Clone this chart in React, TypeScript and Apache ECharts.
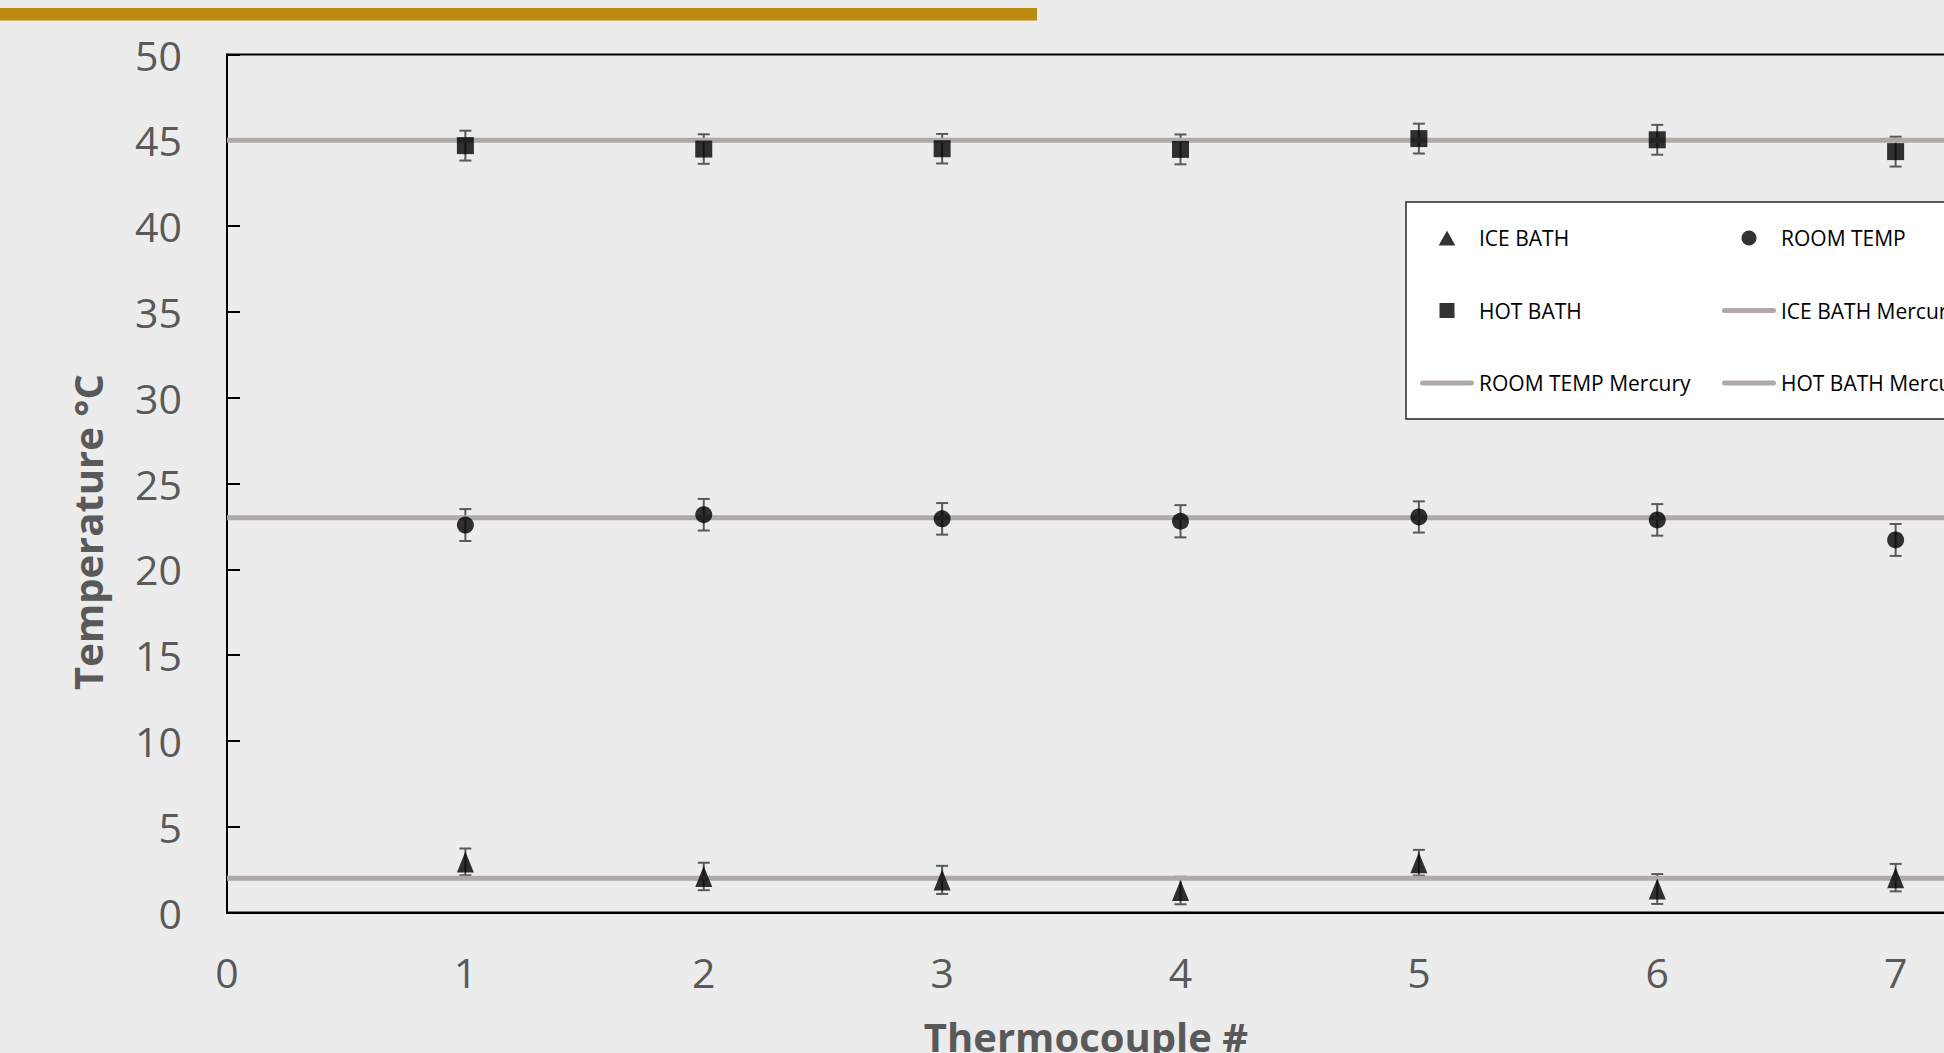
import React, { useEffect, useRef } from "react";
import * as echarts from "echarts";

const thermocouples = [1, 2, 3, 4, 5, 6, 7];
const iceBath = [2.95, 2.1, 1.9, 1.28, 2.9, 1.37, 2.03];
const iceErr = [0.78, 0.8, 0.82, 0.8, 0.75, 0.87, 0.8];
const roomTemp = [22.58, 23.18, 22.94, 22.8, 23.05, 22.88, 21.71];
const roomErr = [0.93, 0.92, 0.92, 0.94, 0.91, 0.92, 0.93];
const hotBath = [44.69, 44.49, 44.51, 44.47, 45.1, 45.03, 44.34];
const hotErr = [0.87, 0.86, 0.86, 0.87, 0.87, 0.87, 0.87];
const mercuryNames = ["ICE BATH Mercury", "ROOM TEMP Mercury", "HOT BATH Mercury"];
const mercuryValues = [2, 23, 45];
const xRange = [0, 8];
const yRange = [0, 50];

const FONT = "'Open Sans', 'Noto Sans', sans-serif";
const GRAY_TEXT = "#595959";
const LINE_GRAY = "#AFAAA7";
const ERR_COLOR = "#595959";

const ICON_TRIANGLE = "path://M5,0 L10,9 L0,9 Z";
const ICON_SQUARE = "path://M0,0 L10,0 L10,10 L0,10 Z";
const ICON_LINE = "path://M2.5,0 L51.5,0 A2.5,2.5 0 0 1 51.5,5 L2.5,5 A2.5,2.5 0 0 1 2.5,0 Z";

function errSeries(name: string, vals: number[], errs: number[]) {
  return {
    name,
    type: "custom",
    z: 1,
    silent: true,
    data: thermocouples.map((x, i) => [x, vals[i], errs[i]]),
    renderItem: (params: any, api: any) => {
      const x = api.value(0);
      const y = api.value(1);
      const e = api.value(2);
      const top = api.coord([x, y + e]);
      const bot = api.coord([x, y - e]);
      const w = 6;
      const style = { stroke: ERR_COLOR, lineWidth: 2 };
      return {
        type: "group",
        children: [
          { type: "line", shape: { x1: top[0], y1: top[1], x2: bot[0], y2: bot[1] }, style },
          { type: "line", shape: { x1: top[0] - w, y1: top[1], x2: top[0] + w, y2: top[1] }, style },
          { type: "line", shape: { x1: bot[0] - w, y1: bot[1], x2: bot[0] + w, y2: bot[1] }, style },
        ],
      };
    },
  };
}

export default function App() {
  const ref = useRef<HTMLDivElement>(null);
  useEffect(() => {
    if (!ref.current) return;
    const chart = echarts.init(ref.current, null, { renderer: "svg" });
    const scatter = (name: string, vals: number[], symbol: string, size: any) => ({
      name,
      type: "scatter",
      z: 3,
      symbol,
      symbolSize: size,
      itemStyle: { color: "#000000" },
      data: thermocouples.map((x, i) => [x, vals[i]]),
    });
    const mercury = mercuryNames.map((name, i) => ({
      name,
      type: "line",
      z: 2,
      symbol: "none",
      showSymbol: false,
      itemStyle: { color: LINE_GRAY },
      lineStyle: { color: LINE_GRAY, width: 5 },
      data: [
        [xRange[0], mercuryValues[i]],
        [xRange[1], mercuryValues[i]],
      ],
    }));
    chart.setOption({
      animation: false,
      backgroundColor: "#ECECEC",
      textStyle: { fontFamily: FONT },
      grid: {
        left: 227,
        top: 54.5,
        width: 1907,
        height: 858,
        show: true,
        borderColor: "#000000",
        borderWidth: 2,
        backgroundColor: "transparent",
      },
      xAxis: {
        type: "value",
        min: xRange[0],
        max: xRange[1],
        interval: 1,
        splitLine: { show: false },
        axisTick: { show: false },
        axisLine: { lineStyle: { color: "#000000", width: 2 } },
        axisLabel: { fontSize: 41, color: GRAY_TEXT, margin: 39, fontFamily: FONT },
      },
      yAxis: {
        type: "value",
        min: yRange[0],
        max: yRange[1],
        interval: 5,
        splitLine: { show: false },
        axisTick: { show: true, inside: true, length: 13, lineStyle: { color: "#000000", width: 2 } },
        axisLine: { show: true, lineStyle: { color: "#000000", width: 2 } },
        axisLabel: {
          fontSize: 41,
          color: GRAY_TEXT,
          margin: 45,
          fontFamily: FONT,
          padding: [0, 0, 9, 0],
        },
      },
      legend: {
        left: 1406,
        top: 202,
        orient: "vertical",
        height: 200,
        padding: [13.75, 15, 13.75, 14],
        itemGap: 28,
        itemWidth: 54,
        itemHeight: 15,
        symbolKeepAspect: true,
        backgroundColor: "#FFFFFF",
        borderColor: "#262626",
        borderWidth: 1.5,
        borderRadius: 0,
        textStyle: {
          fontSize: 21,
          color: "#000000",
          fontFamily: FONT,
          width: 215,
          lineHeight: 44.5,
        },
        data: [
          { name: "ICE BATH", icon: ICON_TRIANGLE },
          { name: "HOT BATH", icon: ICON_SQUARE },
          { name: "ROOM TEMP Mercury", icon: ICON_LINE },
          { name: "ROOM TEMP", icon: "circle" },
          { name: "ICE BATH Mercury", icon: ICON_LINE },
          { name: "HOT BATH Mercury", icon: ICON_LINE },
        ],
      },
      graphic: [
        {
          type: "rect",
          left: 0,
          top: 8,
          shape: { width: 1037, height: 12.5 },
          style: { fill: "#BC8A0E" },
          z: 0,
        },
        {
          type: "text",
          x: 1086,
          y: 1036,
          style: {
            text: "Thermocouple #",
            font: `bold 40px ${FONT}`,
            fill: GRAY_TEXT,
            align: "center",
            verticalAlign: "middle",
          },
        },
        {
          type: "text",
          x: 87,
          y: 532,
          rotation: Math.PI / 2,
          style: {
            text: "Temperature °C",
            font: `bold 40px ${FONT}`,
            fill: GRAY_TEXT,
            align: "center",
            verticalAlign: "middle",
          },
        },
      ],
      series: [
        errSeries("err-ice", iceBath, iceErr),
        errSeries("err-room", roomTemp, roomErr),
        errSeries("err-hot", hotBath, hotErr),
        ...mercury,
        scatter("ICE BATH", iceBath, "triangle", [17, 21]),
        scatter("ROOM TEMP", roomTemp, "circle", 17),
        scatter("HOT BATH", hotBath, "rect", 17),
      ],
    });
    return () => chart.dispose();
  }, []);
  return (
    <div
      style={{
        position: "fixed",
        left: 0,
        top: 0,
        width: 1944,
        height: 1053,
        overflow: "hidden",
        background: "#ECECEC",
      }}
    >
      <div ref={ref} style={{ width: 2300, height: 1053 }} />
    </div>
  );
}
